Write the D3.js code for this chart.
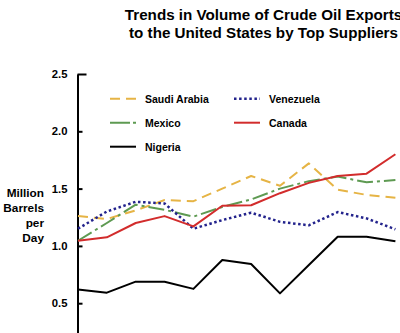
<!DOCTYPE html>
<html>
<head>
<meta charset="utf-8">
<script src="https://cdn.jsdelivr.net/npm/d3@7"></script>
<style>
  html, body { margin: 0; padding: 0; background: #fff; }
  svg { display: block; font-family: "Liberation Sans", Arial, sans-serif; }
</style>
</head>
<body>
<svg id="chart" width="400" height="333"></svg>
<script>
// ---- data ----
const years = ["1996","1997","1998","1999","2000","2001","2002","2003","2004","2005","2006","2007"];
const saudiArabia = [1.26, 1.235, 1.31, 1.40, 1.39, 1.50, 1.61, 1.525, 1.72, 1.49, 1.445, 1.42];
const venezuela   = [1.15, 1.30, 1.385, 1.37, 1.15, 1.225, 1.29, 1.21, 1.18, 1.295, 1.24, 1.145];
const mexico      = [1.045, 1.20, 1.36, 1.315, 1.255, 1.34, 1.405, 1.50, 1.565, 1.605, 1.555, 1.575];
const canada      = [1.045, 1.075, 1.20, 1.26, 1.17, 1.35, 1.355, 1.46, 1.55, 1.61, 1.63, 1.80];
const nigeria     = [0.62, 0.592, 0.688, 0.688, 0.625, 0.877, 0.842, 0.586, 0.833, 1.08, 1.08, 1.04];
const yTicks = [0.5, 1.0, 1.5, 2.0, 2.5];
const titleLines = ["Trends in Volume of Crude Oil Exports", "to the United States by Top Suppliers"];
const yTitleLines = ["Million", "Barrels", "per", "Day"];

const series = [
  { name: "Saudi Arabia", values: saudiArabia, color: "#E6B445", dash: "10,6",        width: 2,   lx: 110, ly: 98.7 },
  { name: "Venezuela",    values: venezuela,   color: "#23238C", dash: "2.5,2.6",     width: 2.5, lx: 234, ly: 98.7 },
  { name: "Mexico",       values: mexico,      color: "#5E9A52", dash: "16,4,3,4",    width: 2,   lx: 110, ly: 122.7 },
  { name: "Canada",       values: canada,      color: "#D22C2C", dash: null,          width: 2,   lx: 234, ly: 122.7 },
  { name: "Nigeria",      values: nigeria,     color: "#000000", dash: null,          width: 2,   lx: 110, ly: 146.7 }
];

// ---- layout ----
const svg = d3.select("#chart");
const x = d3.scalePoint().domain(years).range([78, 395.4]);
const y = d3.scaleLinear().domain([0, 2.5]).range([360.5, 74]);

// title
svg.append("g").selectAll("text").data(titleLines).join("text")
  .attr("x", 263.5)
  .attr("y", (d, i) => 19.5 + i * 18.5)
  .attr("text-anchor", "middle")
  .attr("font-size", "15.2px")
  .attr("font-weight", "bold")
  .attr("fill", "#000")
  .text(d => d);

// y axis
const yAxis = d3.axisLeft(y)
  .tickValues(yTicks)
  .tickFormat(d3.format(".1f"))
  .tickSize(-5)
  .tickSizeOuter(0)
  .tickPadding(10);
const gy = svg.append("g").attr("transform", "translate(77.5,0)").call(yAxis);
gy.select(".domain").attr("stroke", "#000").attr("stroke-width", 2);
gy.selectAll(".tick line").attr("stroke", "#000").attr("stroke-width", 2)
  .attr("x2", d => d === 2.5 ? 9 : 5);
gy.selectAll(".tick text")
  .attr("font-size", "11.3px")
  .attr("font-weight", "bold")
  .attr("font-family", "'Liberation Sans', Arial, sans-serif")
  .attr("fill", "#000");

// y title
svg.append("g").selectAll("text").data(yTitleLines).join("text")
  .attr("x", 44)
  .attr("y", (d, i) => 197.3 + i * 14.8)
  .attr("text-anchor", "end")
  .attr("font-size", "11.8px")
  .attr("font-weight", "bold")
  .attr("fill", "#000")
  .text(d => d);

// lines
const line = d3.line()
  .x((d, i) => x(years[i]))
  .y(d => y(d));

const order = ["Saudi Arabia", "Mexico", "Venezuela", "Canada", "Nigeria"];
svg.append("g").selectAll("path")
  .data(order.map(n => series.find(s => s.name === n)))
  .join("path")
  .attr("d", d => line(d.values))
  .attr("fill", "none")
  .attr("stroke", d => d.color)
  .attr("stroke-width", d => d.width)
  .attr("stroke-dasharray", d => d.dash)
  .attr("stroke-linejoin", "round");

// legend
const lg = svg.append("g").selectAll("g").data(series).join("g")
  .attr("transform", d => `translate(${d.lx},${d.ly})`);
lg.append("line")
  .attr("x1", 0).attr("x2", 26).attr("y1", 0).attr("y2", 0)
  .attr("stroke", d => d.color)
  .attr("stroke-width", d => d.width)
  .attr("stroke-dasharray", d => d.name === "Mexico" ? "20,3,3,4" : d.dash);
lg.append("text")
  .attr("x", 35)
  .attr("y", 3.8)
  .attr("font-size", "10.5px")
  .attr("font-weight", "bold")
  .attr("fill", "#000")
  .text(d => d.name);
</script>
</body>
</html>
